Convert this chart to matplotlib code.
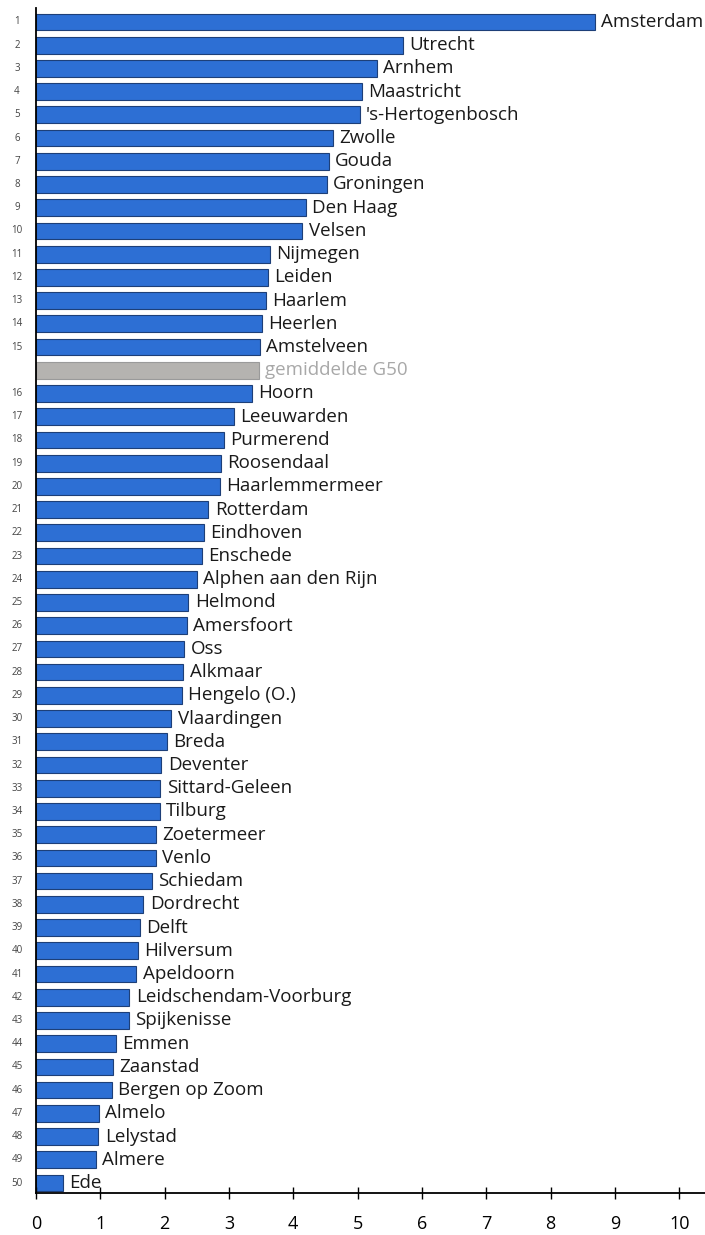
import matplotlib.pyplot as plt

# city ranking, top to bottom (None = G50 average row)
cities = ["Amsterdam", "Utrecht", "Arnhem", "Maastricht", "'s-Hertogenbosch", "Zwolle",
          "Gouda", "Groningen", "Den Haag", "Velsen", "Nijmegen", "Leiden", "Haarlem",
          "Heerlen", "Amstelveen", "gemiddelde G50", "Hoorn", "Leeuwarden", "Purmerend",
          "Roosendaal", "Haarlemmermeer", "Rotterdam", "Eindhoven", "Enschede",
          "Alphen aan den Rijn", "Helmond", "Amersfoort", "Oss", "Alkmaar", "Hengelo (O.)",
          "Vlaardingen", "Breda", "Deventer", "Sittard-Geleen", "Tilburg", "Zoetermeer",
          "Venlo", "Schiedam", "Dordrecht", "Delft", "Hilversum", "Apeldoorn",
          "Leidschendam-Voorburg", "Spijkenisse", "Emmen", "Zaanstad", "Bergen op Zoom",
          "Almelo", "Lelystad", "Almere", "Ede"]
values = [8.69, 5.70, 5.30, 5.07, 5.03, 4.61, 4.55, 4.52, 4.19, 4.14, 3.64, 3.60, 3.57,
          3.51, 3.48, 3.46, 3.36, 3.08, 2.92, 2.87, 2.86, 2.68, 2.61, 2.58, 2.50, 2.37,
          2.34, 2.30, 2.29, 2.27, 2.10, 2.03, 1.95, 1.93, 1.92, 1.87, 1.86, 1.80, 1.67,
          1.61, 1.58, 1.56, 1.45, 1.44, 1.24, 1.20, 1.18, 0.98, 0.97, 0.93, 0.42]
ranks = [1, 2, 3, 4, 5, 6, 7, 8, 9, 10, 11, 12, 13, 14, 15, None] + list(range(16, 51))
xticks = [0, 1, 2, 3, 4, 5, 6, 7, 8, 9, 10]

plt.rcParams['font.family'] = ['Open Sans', 'DejaVu Sans']

fig = plt.figure(figsize=(7.05, 12.35), dpi=100)
ax = fig.add_axes([36 / 705, 1 - 1193 / 1235, 669 / 705, 1185 / 1235])

blue = '#2d6fd4'
grey = '#b5b3b0'
pos = list(range(len(cities)))
colors = [grey if r is None else blue for r in ranks]
edges = ['#9a9a9a' if r is None else '#1d3f78' for r in ranks]
ax.barh(pos, values, height=0.72, color=colors, edgecolor=edges, linewidth=0.8)

for i, (c, v, r) in enumerate(zip(cities, values, ranks)):
    ax.text(v + 0.1, i, c, va='center', ha='left', fontsize=13.5,
            color='#a8a8a8' if r is None else '#1a1a1a', clip_on=False)
    if r is not None:
        ax.text(-0.0284, i, str(r), transform=ax.get_yaxis_transform(),
                va='center', ha='center', fontsize=7, color='#444444')

ax.set_xlim(0, 10.4)
ax.set_ylim(50.43, -0.6)
ax.set_xticks(xticks)
ax.set_xticklabels([str(t) for t in xticks], fontsize=13)
ax.set_yticks([])
ax.tick_params(axis='x', direction='inout', length=8, width=1, pad=12)
ax.spines['top'].set_visible(False)
ax.spines['right'].set_visible(False)
ax.spines['left'].set_linewidth(1.3)
ax.spines['bottom'].set_linewidth(1.3)

plt.savefig('out.png', dpi=100)
